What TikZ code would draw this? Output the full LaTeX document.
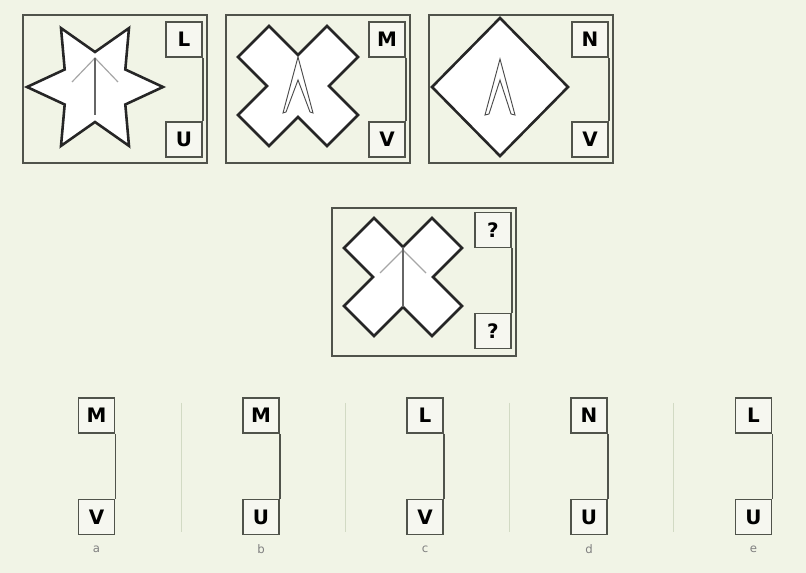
\documentclass[tikz,border=0pt]{standalone}
\usepackage{fontspec}
\setsansfont{DejaVu Sans}
\newfontfamily\tagfont{DejaVu Sans}
\usetikzlibrary{calc}

\definecolor{bgpaper}{RGB}{241,244,230}
\definecolor{boxfill}{RGB}{246,247,240}
\definecolor{framegray}{RGB}{80,83,75}
\definecolor{divline}{RGB}{210,218,196}

\tikzset{
  panelbox/.style={draw=framegray, line width=1.5pt},
  tagbox/.style={draw=framegray, line width=1.3pt, fill=boxfill, minimum width=1.08cm,
    minimum height=1.05cm, inner sep=0pt, font=\tagfont\bfseries\fontsize{17}{17}\selectfont},
  tagline/.style={draw=framegray, line width=1.3pt},
  figshape/.style={draw=black!85, line width=2.2pt, fill=white, line join=miter},
  stemline/.style={draw=black!60, line width=1pt},
  armline/.style={draw=black!35, line width=1pt},
  chevline/.style={draw=black!70, line width=0.8pt, line join=miter},
  optletter/.style={text=black!50, font=\sffamily\fontsize{10}{10}\selectfont},
  divider/.style={draw=divline, line width=0.8pt}
}

\begin{document}
\begin{tikzpicture}[x=0.03cm, y=-0.03cm]

% Background
\fill[bgpaper] (0,0) rectangle (806,573);
\useasboundingbox (0,0) rectangle (806,573);

% Panel 1: star
\draw[panelbox] (23,15) rectangle (207,163);
\begin{scope}[shift={(95,87)}]
  \draw[figshape] (0:68) \foreach \a in {30,90,...,330} { -- (\a:35) -- (\a+30:68) } -- cycle;
  \draw[armline] (-23,-5) -- (0,-29) -- (23,-5);
  \draw[stemline] (0,-29) -- (0,28);
\end{scope}
\node[tagbox] (tagL) at (184,39.5) {L};
\node[tagbox] (tagU) at (184,139.5) {U};
\draw[tagline] (tagL.south east) -- (tagU.north east);

% Panel 2: cross
\draw[panelbox] (226,15) rectangle (410,163);
\begin{scope}[shift={(298,86)}]
  \draw[figshape] (0,-31) -- (29,-60) -- (60,-29) -- (31,0) -- (60,29) -- (29,60)
    -- (0,31) -- (-29,60) -- (-60,29) -- (-31,0) -- (-60,-29) -- (-29,-60) -- cycle;
  \draw[chevline] (0,-29) -- (-15,27) -- (-12,26) -- (0,-6) -- (12,26) -- (15,27) -- cycle;
\end{scope}
\node[tagbox] (tagM) at (387,39.5) {M};
\node[tagbox] (tagV) at (387,139.5) {V};
\draw[tagline] (tagM.south east) -- (tagV.north east);

% Panel 3: diamond
\draw[panelbox] (429,15) rectangle (613,163);
\begin{scope}[shift={(500,87)}]
  \draw[figshape] (0,-69) -- (68,0) -- (0,69) -- (-68,0) -- cycle;
  \draw[chevline] (0,-28) -- (-15,28) -- (-11,27) -- (0,-7) -- (11,27) -- (15,28) -- cycle;
\end{scope}
\node[tagbox] (tagN) at (590,39.5) {N};
\node[tagbox] (tagVb) at (590,139.5) {V};
\draw[tagline] (tagN.south east) -- (tagVb.north east);

% Panel 4: question
\draw[panelbox] (332,208) rectangle (516,356);
\begin{scope}[shift={(403,277)}]
  \draw[figshape] (0,-30) -- (29,-59) -- (59,-29) -- (30,0) -- (59,29) -- (29,59)
    -- (0,30) -- (-29,59) -- (-59,29) -- (-30,0) -- (-59,-29) -- (-29,-59) -- cycle;
  \draw[armline] (-23,-4) -- (0,-27) -- (23,-4);
  \draw[stemline] (0,-30) -- (0,30);
\end{scope}
\node[tagbox] (tagQa) at (493,230) {?};
\node[tagbox] (tagQb) at (493,331) {?};
\draw[tagline] (tagQa.south east) -- (tagQb.north east);

% Answer options
\foreach \x/\top/\bot/\opt in {96.5/M/V/a, 261/M/U/b, 425/L/V/c, 589/N/U/d, 753.5/L/U/e} {
  \node[tagbox] (opt\opt top) at (\x,415.5) {\top};
  \node[tagbox] (opt\opt bot) at (\x,517) {\bot};
  \draw[tagline] (opt\opt top.south east) -- (opt\opt bot.north east);
  \node[optletter] at (\x,549) {\opt};
}

% Dividers
\foreach \x in {181,345,509,673}
  \draw[divider] (\x,403) -- (\x,532);

\end{tikzpicture}
\end{document}
